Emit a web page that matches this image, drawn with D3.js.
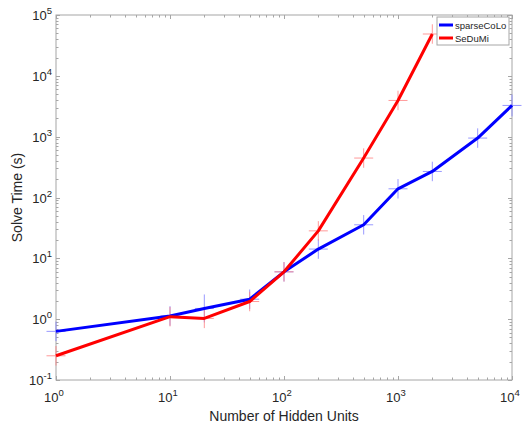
<!DOCTYPE html>
<html>
<head>
<meta charset="utf-8">
<script src="https://cdn.jsdelivr.net/npm/d3@7"></script>
<style>
  body { margin: 0; background: #fff; }
  svg { display: block; font-family: "Liberation Sans", Arial, sans-serif; }
</style>
</head>
<body>
<div id="chart"></div>
<script>
// hidden units (x) and solve times (y, seconds)
const hiddenUnits = [1, 10, 20, 50, 100, 200, 500, 1000, 2000, 5000, 10000];
const sparseCoLo = [0.63, 1.13, 1.5, 2.13, 6, 14.2, 35.6, 139, 268, 948, 3260];
const sedumiUnits = [1, 10, 20, 50, 100, 200, 500, 1000, 2000];
const sedumi = [0.25, 1.1, 1.03, 1.95, 6, 28.3, 445, 3940, 48700];
// half-height of each error bar, in decades
const sparseCoLoErr = [0.16, 0.16, 0.23, 0.16, 0.16, 0.16, 0.16, 0.16, 0.16, 0.16, 0.18];
const sedumiErr = [0.16, 0.16, 0.16, 0.16, 0.16, 0.16, 0.16, 0.16, 0.16];

const seriesNames = ["sparseCoLo", "SeDuMi"];
const seriesColors = ["#0000ff", "#ff0000"];
const errColors = ["#8080ff", "#ff8080"];

const xTicks = [1, 10, 100, 1000, 10000];
const yTicks = [0.1, 1, 10, 100, 1000, 10000, 100000];

const width = 524, height = 423;
const margin = { top: 15, right: 12, bottom: 43, left: 56 };

const svg = d3.select("#chart").append("svg")
  .attr("width", width)
  .attr("height", height);

const x = d3.scaleLog().domain([1, 10000]).range([margin.left, width - margin.right]);
const y = d3.scaleLog().domain([0.1, 100000]).range([height - margin.bottom, margin.top]);

const x0 = x.range()[0], x1 = x.range()[1];
const y0 = y.range()[0], y1 = y.range()[1];

// minor ticks for log axis
function minors(domain) {
  const out = [];
  for (let p = Math.log10(domain[0]); p < Math.log10(domain[1]); p++) {
    for (let k = 2; k <= 9; k++) out.push(k * Math.pow(10, p));
  }
  return out;
}

const axisColor = "#a6a6a6";
const textColor = "#262626";

// box
svg.append("rect")
  .attr("x", x0).attr("y", y1)
  .attr("width", x1 - x0).attr("height", y0 - y1)
  .attr("fill", "none")
  .attr("stroke", axisColor)
  .attr("stroke-width", 1);

const gTicks = svg.append("g").attr("stroke", axisColor).attr("stroke-width", 1);
const majorLen = 4, minorLen = 2.5;

xTicks.forEach(v => {
  const px = Math.round(x(v)) + 0.5;
  gTicks.append("line").attr("x1", px).attr("x2", px).attr("y1", y0).attr("y2", y0 - majorLen);
  gTicks.append("line").attr("x1", px).attr("x2", px).attr("y1", y1).attr("y2", y1 + majorLen);
});
minors(x.domain()).forEach(v => {
  const px = Math.round(x(v)) + 0.5;
  gTicks.append("line").attr("x1", px).attr("x2", px).attr("y1", y0).attr("y2", y0 - minorLen);
  gTicks.append("line").attr("x1", px).attr("x2", px).attr("y1", y1).attr("y2", y1 + minorLen);
});
yTicks.forEach(v => {
  const py = Math.round(y(v)) + 0.5;
  gTicks.append("line").attr("y1", py).attr("y2", py).attr("x1", x0).attr("x2", x0 + majorLen);
  gTicks.append("line").attr("y1", py).attr("y2", py).attr("x1", x1).attr("x2", x1 - majorLen);
});
minors(y.domain()).forEach(v => {
  const py = Math.round(y(v)) + 0.5;
  gTicks.append("line").attr("y1", py).attr("y2", py).attr("x1", x0).attr("x2", x0 + minorLen);
  gTicks.append("line").attr("y1", py).attr("y2", py).attr("x1", x1).attr("x2", x1 - minorLen);
});

// tick labels: 10 with superscript exponent
function powLabel(g, v) {
  const e = Math.round(Math.log10(v));
  g.append("tspan").attr("font-size", 13).text("10");
  g.append("tspan").attr("font-size", 9.5).attr("dy", -6).text(e);
}

xTicks.forEach(v => {
  const t = svg.append("text")
    .attr("x", x(v) - 2).attr("y", y0 + 22)
    .attr("text-anchor", "middle")
    .attr("fill", textColor);
  powLabel(t, v);
});
yTicks.forEach(v => {
  const t = svg.append("text")
    .attr("x", x0 - 4).attr("y", y(v) + 5)
    .attr("text-anchor", "end")
    .attr("fill", textColor);
  powLabel(t, v);
});

// axis titles
svg.append("text")
  .attr("x", (x0 + x1) / 2).attr("y", height - 2)
  .attr("text-anchor", "middle")
  .attr("font-size", 14)
  .attr("fill", textColor)
  .text("Number of Hidden Units");

svg.append("text")
  .attr("transform", `translate(22,${(y0 + y1) / 2}) rotate(-90)`)
  .attr("text-anchor", "middle")
  .attr("font-size", 14)
  .attr("fill", textColor)
  .text("Solve Time (s)");

const series = [
  { xs: hiddenUnits, ys: sparseCoLo, err: sparseCoLoErr },
  { xs: sedumiUnits, ys: sedumi, err: sedumiErr }
];

// error crosses
const capHalf = 9.5;
series.forEach((s, i) => {
  const g = svg.append("g")
    .attr("stroke", errColors[i])
    .attr("stroke-width", 1)
    .attr("stroke-opacity", 0.8);
  s.xs.forEach((xv, j) => {
    const cx = x(xv), cy = y(s.ys[j]);
    const f = Math.pow(10, s.err[j]);
    g.append("line")
      .attr("x1", cx).attr("x2", cx)
      .attr("y1", y(s.ys[j] * f)).attr("y2", y(s.ys[j] / f));
    g.append("line")
      .attr("x1", cx - capHalf).attr("x2", cx + capHalf)
      .attr("y1", cy).attr("y2", cy);
  });
});

// lines
const line = d3.line().x(d => x(d[0])).y(d => y(d[1]));
series.forEach((s, i) => {
  svg.append("path")
    .datum(s.xs.map((xv, j) => [xv, s.ys[j]]))
    .attr("d", line)
    .attr("fill", "none")
    .attr("stroke", seriesColors[i])
    .attr("stroke-width", 3)
    .attr("stroke-linejoin", "round");
});

// legend
const lg = svg.append("g").attr("transform", "translate(437,17)");
lg.append("rect")
  .attr("width", 72).attr("height", 28)
  .attr("fill", "#fff")
  .attr("stroke", axisColor);
seriesNames.forEach((name, i) => {
  const ly = 8 + i * 13;
  lg.append("line")
    .attr("x1", 2).attr("x2", 16)
    .attr("y1", ly).attr("y2", ly)
    .attr("stroke", seriesColors[i])
    .attr("stroke-width", 3);
  lg.append("text")
    .attr("x", 18).attr("y", ly + 3.5)
    .attr("font-size", 9.5)
    .attr("fill", textColor)
    .text(name);
});
</script>
</body>
</html>
